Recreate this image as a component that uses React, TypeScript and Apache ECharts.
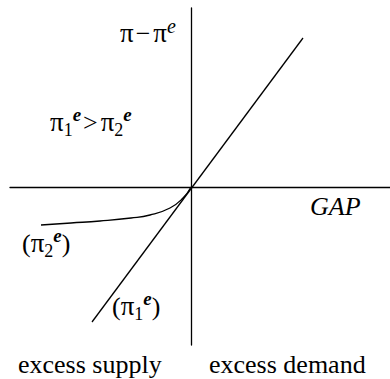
import React, { useEffect, useRef } from "react";
import * as echarts from "echarts";

// Straight-line schedule (π1e) : endpoints
const lineX = [-0.99, 1.12];
const lineY = [-1.35, 1.49];
// Curved schedule (π2e)
const curveX = [-1.5, -1.2, -0.91, -0.6, -0.41, -0.21, -0.08, 0];
const curveY = [-0.38, -0.36, -0.34, -0.31, -0.28, -0.21, -0.11, 0];

const FONT = "'Liberation Serif', 'Times New Roman', serif";

const rich = {
  b: { fontSize: 26, lineHeight: 34, fontFamily: FONT, color: "#000" },
  p: { fontSize: 27, lineHeight: 34, fontFamily: FONT, color: "#000" },
  m: { fontSize: 26, lineHeight: 34, fontFamily: FONT, color: "#000", padding: [0, 3, 0, 2] },
  i: { fontSize: 26, lineHeight: 34, fontFamily: FONT, color: "#000", fontStyle: "italic" },
  sup: { fontSize: 20, lineHeight: 22, fontFamily: FONT, color: "#000", verticalAlign: "top", fontStyle: "italic" },
  supb: { fontSize: 19, lineHeight: 21, fontFamily: FONT, color: "#000", verticalAlign: "top", fontWeight: "bold", fontStyle: "italic" },
  sub: { fontSize: 18, lineHeight: 20, fontFamily: FONT, color: "#000", verticalAlign: "bottom" },
};

function label(text: string, x: number, y: number) {
  return {
    type: "text",
    x,
    y,
    style: { text, rich, align: "left", verticalAlign: "top", fill: "#000" },
  };
}

export default function App() {
  const ref = useRef<HTMLDivElement>(null);
  useEffect(() => {
    document.body.style.margin = "0";
    const chart = echarts.init(ref.current!, null, { renderer: "svg" });
    const axisCommon = {
      type: "value" as const,
      axisLine: { show: true, onZero: true, lineStyle: { color: "#000", width: 1.3 } },
      axisTick: { show: false },
      axisLabel: { show: false },
      splitLine: { show: false },
    };
    chart.setOption({
      animation: false,
      backgroundColor: "#fff",
      grid: { left: 10, right: 0, top: 8, bottom: 34 },
      xAxis: { ...axisCommon, min: -1.81, max: 1.99 },
      yAxis: { ...axisCommon, min: -1.58, max: 1.79 },
      series: [
        {
          type: "line",
          data: lineX.map((x, i) => [x, lineY[i]]),
          showSymbol: false,
          lineStyle: { color: "#000", width: 1.3 },
        },
        {
          type: "line",
          data: curveX.map((x, i) => [x, curveY[i]]),
          smooth: true,
          showSymbol: false,
          lineStyle: { color: "#000", width: 1.3 },
        },
      ],
      graphic: [
        label("{p|π}{m|−}{p|π}{sup|e}", 120, 16),
        label("{p|π}{sub|1}{supb|e}{m|>}{p|π}{sub|2}{supb|e}", 50, 105),
        label("{i|GAP}", 310, 189),
        label("{b|(}{p|π}{sub|2}{supb|e}{b|)}", 22, 226),
        label("{b|(}{p|π}{sub|1}{supb|e}{b|)}", 112, 289),
        label("{b|excess supply}", 18, 347),
        label("{b|excess demand}", 209, 347),
      ],
    });
    return () => chart.dispose();
  }, []);
  return <div ref={ref} style={{ width: 390, height: 379 }} />;
}
